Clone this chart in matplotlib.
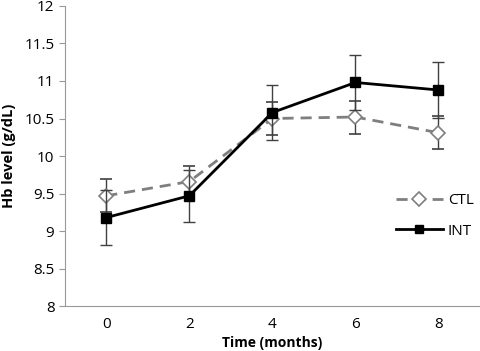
import matplotlib
matplotlib.use("Agg")
import matplotlib.pyplot as plt
from matplotlib.lines import Line2D
import numpy as np

# data
months = ["0", "2", "4", "6", "8"]
ctl_mean = [9.47, 9.66, 10.50, 10.52, 10.31]
ctl_err = [0.22, 0.21, 0.22, 0.22, 0.22]
int_mean = [9.18, 9.47, 10.58, 10.98, 10.88]
int_err = [0.37, 0.35, 0.37, 0.37, 0.37]

plt.rcParams['font.family'] = ['Open Sans', 'DejaVu Sans']

fig = plt.figure(figsize=(4.8, 3.51), dpi=100)
ax = fig.add_axes([0.135, 0.128, 0.865, 0.855])

x = np.arange(len(months))
ctl_style = dict(color='#7f7f7f', ls=(0, (4, 2.5)), lw=2, marker='D',
                 mfc='white', mec='#7f7f7f', mew=1.2)
int_style = dict(color='black', ls='-', lw=2, marker='s',
                 mfc='black', mec='black')

ax.errorbar(x, ctl_mean, yerr=ctl_err, ms=7, ecolor='#404040', elinewidth=1,
            capsize=4, zorder=3, **ctl_style)
ax.errorbar(x, int_mean, yerr=int_err, ms=7, ecolor='#404040', elinewidth=1,
            capsize=4, zorder=4, **int_style)

ax.set_xlim(-0.5, len(months) - 0.5)
ax.set_ylim(8, 12)
ax.set_xticks(x)
ax.set_xticklabels(months)
ax.set_yticks(np.arange(8, 12.01, 0.5))
ax.set_yticklabels(['8', '8.5', '9', '9.5', '10', '10.5', '11', '11.5', '12'])

for s in ['top', 'right']:
    ax.spines[s].set_visible(False)
for s in ['left', 'bottom']:
    ax.spines[s].set_color('#999999')
ax.tick_params(axis='y', length=4, color='#999999', labelsize=11)
ax.tick_params(axis='x', length=0, labelsize=11, pad=8)

ax.set_xlabel('Time (months)', fontsize=10, fontweight='bold', labelpad=3)
ax.set_ylabel('Hb level (g/dL)', fontsize=10.5, fontweight='bold', labelpad=6)

handles = [Line2D([], [], ms=7, **ctl_style), Line2D([], [], ms=6, **int_style)]
ax.legend(handles, ['CTL', 'INT'], loc='center left', bbox_to_anchor=(0.764, 0.30),
          frameon=False, fontsize=11, handlelength=3.1, labelspacing=1.0,
          handletextpad=0.3)

fig.savefig('out.png', dpi=100)
